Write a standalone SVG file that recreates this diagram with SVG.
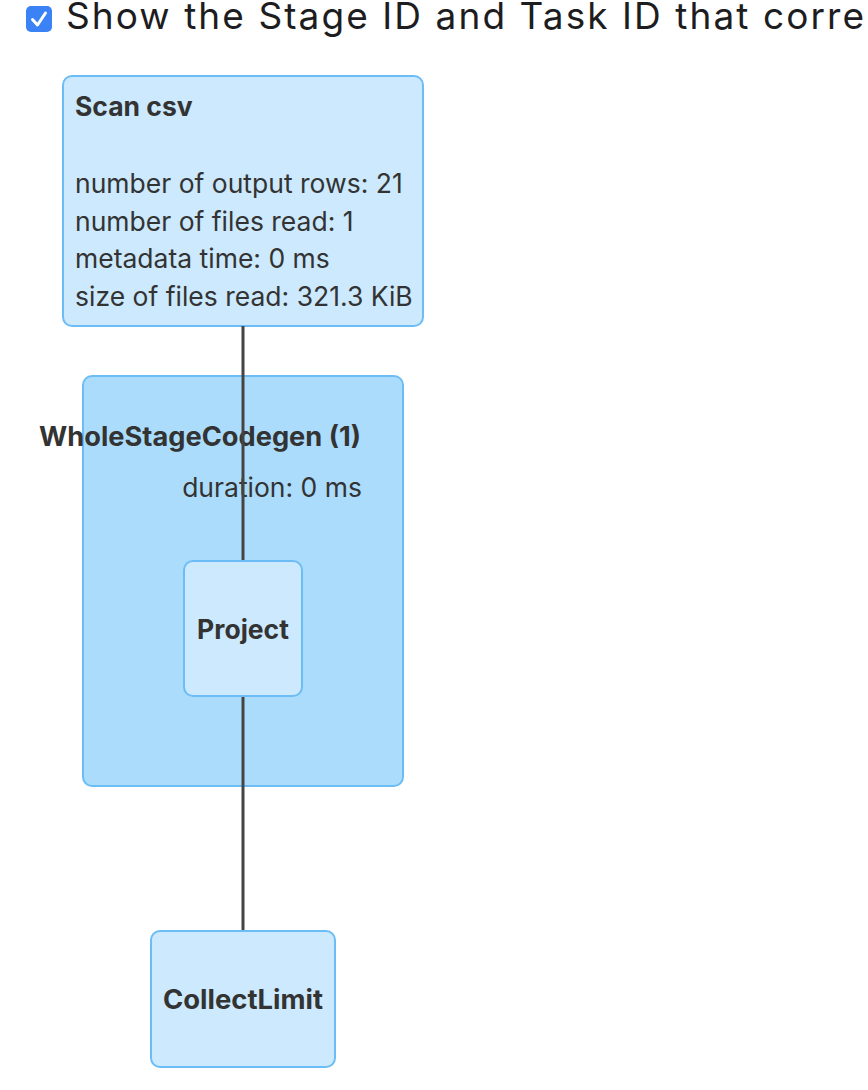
<svg xmlns="http://www.w3.org/2000/svg" width="868" height="1090" viewBox="0 0 868 1090">
<style>
  text { font-family: Inter, "Liberation Sans", sans-serif; fill: #333333; }
  .node { fill: #cce9fd; stroke: #6cbdf5; stroke-width: 2; }
  .cluster { fill: #abdcfc; stroke: #6cbdf5; stroke-width: 2; }
  .title { font-weight: bold; font-size: 26.5px; }
  .metric { font-size: 26.5px; }
  .edge { stroke: #444444; stroke-width: 3; fill: none; }
</style>
<rect width="868" height="1090" fill="#ffffff"/>
<g id="header">
  <rect x="26" y="6" width="26" height="26" rx="5" fill="#3b82f6"/>
  <polyline points="32.5,19.5 37.5,25 45.5,13" fill="none" stroke="#ffffff" stroke-width="3" stroke-linecap="round" stroke-linejoin="round"/>
  <text x="66" y="29" style="font-size:37px; fill:#1d1d1f" textLength="798" lengthAdjust="spacing">Show the Stage ID and Task ID that corre</text>
</g>
<g id="node-scan-csv">
  <rect class="node" x="63" y="76" width="360" height="250" rx="9"/>
  <text class="title" x="75" y="116">Scan csv</text>
  <text class="metric" x="75" y="193">number of output rows: 21</text>
  <text class="metric" x="75" y="231">number of files read: 1</text>
  <text class="metric" x="75" y="268">metadata time: 0 ms</text>
  <text class="metric" x="75" y="306">size of files read: 321.3 KiB</text>
</g>
<g id="cluster-wholestagecodegen">
  <rect class="cluster" x="83" y="376" width="320" height="410" rx="9"/>
  <text class="title" x="361" y="446" text-anchor="end" textLength="322" lengthAdjust="spacingAndGlyphs">WholeStageCodegen (1)</text>
  <text class="metric" x="362" y="497" text-anchor="end">duration: 0 ms</text>
</g>
<g id="connectors">
  <line class="edge" x1="243" y1="326" x2="243" y2="561"/>
  <line class="edge" x1="243" y1="696" x2="243" y2="931"/>
</g>
<g id="node-project">
  <rect class="node" x="184" y="561" width="118" height="135" rx="9"/>
  <text class="title" x="243" y="639" text-anchor="middle">Project</text>
</g>
<g id="node-collectlimit">
  <rect class="node" x="151" y="931" width="184" height="136" rx="9"/>
  <text class="title" x="243" y="1009" text-anchor="middle" textLength="160" lengthAdjust="spacingAndGlyphs">CollectLimit</text>
</g>
</svg>
